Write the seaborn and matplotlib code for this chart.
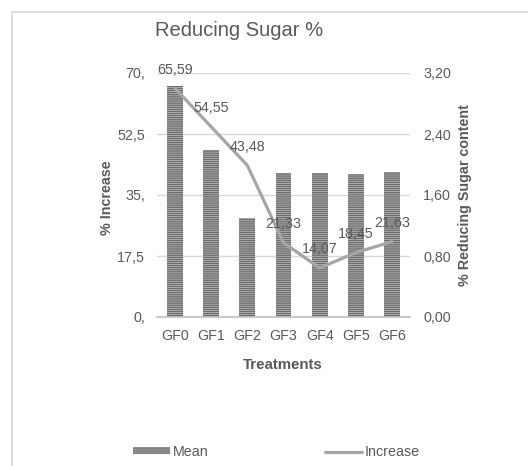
import numpy as np
import matplotlib
matplotlib.use("Agg")
import matplotlib.pyplot as plt
from matplotlib.patches import Patch
from matplotlib.lines import Line2D
from matplotlib.ticker import FixedLocator, FixedFormatter
import seaborn as sns

# Data
treatments = ["GF0", "GF1", "GF2", "GF3", "GF4", "GF5", "GF6"]
mean_sugar = [3.03, 2.19, 1.30, 1.89, 1.89, 1.875, 1.90]        # % reducing sugar content (right axis)
increase = [65.59, 54.55, 43.48, 21.33, 14.07, 18.45, 21.63]     # % increase (left axis)
increase_labels = ["65,59", "54,55", "43,48", "21,33", "14,07", "18,45", "21,63"]
left_ticks = [0, 17.5, 35, 52.5, 70]
left_ticklabels = ["0,", "17,5", "35,", "52,5", "70,"]
right_ticks = [0, 0.8, 1.6, 2.4, 3.2]
right_ticklabels = ["0,00", "0,80", "1,60", "2,40", "3,20"]

sns.set_theme(style="white")
plt.rcParams["font.family"] = ["Liberation Sans", "DejaVu Sans"]
plt.rcParams["hatch.linewidth"] = 1.0

TXT = "#595959"
GRID = "#d9d9d9"
LINE = "#a6a6a6"
BAR_FACE = "#c8c8c8"
BAR_HATCH = "#6a6a6a"
FS = 10.3

W, H = 528, 466
fig = plt.figure(figsize=(W / 100, H / 100), dpi=100)

# chart frame
fig.add_artist(Line2D([12 / W, 12 / W], [0, 1 - 12 / H], color=GRID, lw=1.2))
fig.add_artist(Line2D([12 / W, 1], [1 - 12 / H, 1 - 12 / H], color=GRID, lw=1.2))

x0, x1 = 157, 410
y_top, y_bot = 73, 317
ax_bar = fig.add_axes([x0 / W, 1 - y_bot / H, (x1 - x0) / W, (y_bot - y_top) / H])
ax_line = ax_bar.twinx()

pos = np.arange(len(treatments))

# Bars: reducing sugar content on the right-hand scale
sns.barplot(x=pos, y=mean_sugar, ax=ax_bar, color=BAR_FACE, saturation=1,
            width=0.44, hatch="--------", edgecolor=BAR_HATCH, linewidth=0,
            native_scale=True, zorder=2)
ax_bar.set_xlim(-0.5, len(treatments) - 0.5)
ax_bar.set_ylim(0, 3.2)
ax_bar.yaxis.tick_right()
ax_bar.yaxis.set_major_locator(FixedLocator(right_ticks))
ax_bar.yaxis.set_major_formatter(FixedFormatter(right_ticklabels))
ax_bar.set_xticks(pos)
ax_bar.set_xticklabels(treatments)
ax_bar.grid(axis="y", color=GRID, lw=1.0, zorder=0)
ax_bar.set_axisbelow(True)
ax_bar.set_xlabel("")
ax_bar.set_ylabel("")

# Line: percentage increase on the left-hand scale
sns.lineplot(x=pos, y=increase, ax=ax_line, color=LINE, lw=2.3, sort=False)
ax_line.set_ylim(0, 70)
ax_line.yaxis.tick_left()
ax_line.yaxis.set_major_locator(FixedLocator(left_ticks))
ax_line.yaxis.set_major_formatter(FixedFormatter(left_ticklabels))
ax_line.set_ylabel("")
for xi, v, lab in zip(pos, increase, increase_labels):
    ax_line.annotate(lab, (xi, v), xytext=(0, 13.5), textcoords="offset points",
                     ha="center", va="center", fontsize=FS, color=TXT)

for a in (ax_bar, ax_line):
    for s in a.spines.values():
        s.set_visible(False)
    a.tick_params(axis="both", length=0, labelsize=FS, labelcolor=TXT)
    a.patch.set_visible(False)
ax_bar.spines["bottom"].set_visible(True)
ax_bar.spines["bottom"].set_color("#bfbfbf")
ax_bar.spines["bottom"].set_linewidth(1.2)
ax_bar.tick_params(axis="x", pad=9)
ax_bar.tick_params(axis="y", pad=9.5)
ax_line.tick_params(axis="y", pad=8.5)

# Titles and axis labels
fig.text(155 / W, 1 - 30 / H, "Reducing Sugar %", fontsize=14.5, color=TXT,
         ha="left", va="center")
fig.text(107 / W, 1 - 198 / H, "% Increase", fontsize=FS, color=TXT,
         fontweight="bold", rotation=90, ha="center", va="center")
fig.text(465 / W, 1 - 195 / H, "% Reducing Sugar content", fontsize=FS, color=TXT,
         fontweight="bold", rotation=90, ha="center", va="center")
fig.text(283 / W, 1 - 365 / H, "Treatments", fontsize=10.8, color=TXT,
         fontweight="bold", ha="center", va="center")

# Legend
handles = [Patch(facecolor=BAR_FACE, edgecolor=BAR_HATCH, hatch="--------", lw=0),
           Line2D([], [], color=LINE, lw=2.3)]
fig.legend(handles, ["Mean", "Increase"], loc="center left",
           bbox_to_anchor=(133 / W, 1 - 452 / H), ncol=2, frameon=False,
           fontsize=FS, labelcolor=TXT, handlelength=2.6, handleheight=0.4,
           handletextpad=0.2, columnspacing=8.1, borderpad=0, borderaxespad=0)

fig.savefig("out.png", dpi=100)
